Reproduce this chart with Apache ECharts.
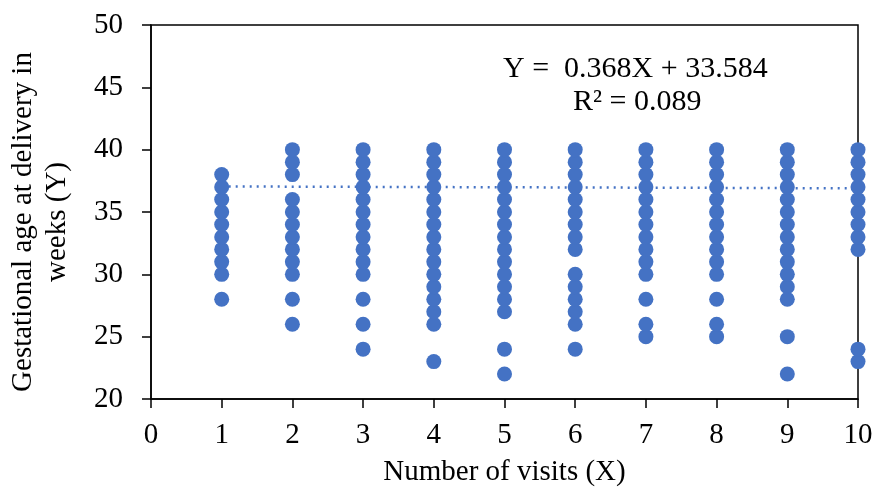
<!DOCTYPE html>
<html>
<head>
<meta charset="utf-8">
<script src="https://cdn.jsdelivr.net/npm/echarts@6/dist/echarts.min.js"></script>
<style>
  html, body { margin: 0; padding: 0; background: #fff; }
  #main { width: 876px; height: 493px; }
</style>
</head>
<body>
<div id="main"></div>
<script>
// gestational age (weeks) observed for each number of visits
var visits = [1, 2, 3, 4, 5, 6, 7, 8, 9, 10];
var weeks1 = [28, 30, 31, 32, 33, 34, 35, 36, 37, 38];
var weeks2 = [26, 28, 30, 31, 32, 33, 34, 35, 36, 38, 39, 40];
var weeks3 = [24, 26, 28, 30, 31, 32, 33, 34, 35, 36, 37, 38, 39, 40];
var weeks4 = [23, 26, 27, 28, 29, 30, 31, 32, 33, 34, 35, 36, 37, 38, 39, 40];
var weeks5 = [22, 24, 27, 28, 29, 30, 31, 32, 33, 34, 35, 36, 37, 38, 39, 40];
var weeks6 = [24, 26, 27, 28, 29, 30, 32, 33, 34, 35, 36, 37, 38, 39, 40];
var weeks7 = [25, 26, 28, 30, 31, 32, 33, 34, 35, 36, 37, 38, 39, 40];
var weeks8 = [25, 26, 28, 30, 31, 32, 33, 34, 35, 36, 37, 38, 39, 40];
var weeks9 = [22, 25, 28, 29, 30, 31, 32, 33, 34, 35, 36, 37, 38, 39, 40];
var weeks10 = [23, 24, 32, 33, 34, 35, 36, 37, 38, 39, 40];

// trend line as drawn
var trendX = [1, 10];
var trendY = [37.05, 36.9];

var xTicks = [0, 1, 2, 3, 4, 5, 6, 7, 8, 9, 10];
var yTicks = [20, 25, 30, 35, 40, 45, 50];

var equationText = "Y =  0.368X + 33.584";
var r2Text = "R\u00b2 = 0.089";

var allWeeks = [weeks1, weeks2, weeks3, weeks4, weeks5, weeks6, weeks7, weeks8, weeks9, weeks10];
var points = [];
allWeeks.forEach(function (list, i) {
  list.forEach(function (w) {
    points.push([visits[i], w]);
  });
});

var blue = "#4472C4";
var font = "'Liberation Serif', 'Times New Roman', serif";

var chart = echarts.init(document.getElementById("main"));
var option = {
  animation: false,
  grid: {
    left: 151,
    right: 18,
    top: 25,
    bottom: 94,
    outerBoundsMode: "none",
    show: true,
    borderColor: "#000",
    borderWidth: 1.5,
    backgroundColor: "transparent"
  },
  xAxis: {
    type: "value",
    min: xTicks[0],
    max: xTicks[xTicks.length - 1],
    interval: 1,
    name: "Number of visits (X)",
    nameLocation: "middle",
    nameGap: 59,
    nameTextStyle: { fontFamily: font, fontSize: 29, color: "#000" },
    axisLine: { show: true, lineStyle: { color: "#000", width: 1.5 } },
    axisTick: { show: true, length: 9, lineStyle: { color: "#000", width: 1.5 } },
    axisLabel: { fontFamily: font, fontSize: 29, color: "#000", margin: 22 },
    splitLine: { show: false }
  },
  yAxis: {
    type: "value",
    min: yTicks[0],
    max: yTicks[yTicks.length - 1],
    interval: 5,
    name: "Gestational age at delivery in\nweeks (Y)",
    nameLocation: "middle",
    nameRotate: 90,
    nameGap: 77,
    nameTextStyle: {
      fontFamily: font, fontSize: 29, color: "#000", lineHeight: 34,
      padding: [0, 20, 0, 0]
    },
    axisLine: { show: true, lineStyle: { color: "#000", width: 1.5 } },
    axisTick: { show: true, length: 9, lineStyle: { color: "#000", width: 1.5 } },
    axisLabel: { fontFamily: font, fontSize: 29, color: "#000", margin: 28 },
    splitLine: { show: false }
  },
  graphic: [
    {
      type: "text",
      left: 503,
      top: 54,
      style: { text: equationText, font: "30px " + font, fill: "#000" }
    },
    {
      type: "text",
      left: 573,
      top: 87,
      style: { text: r2Text, font: "30px " + font, fill: "#000" }
    }
  ],
  series: [
    {
      type: "scatter",
      data: points,
      symbol: "circle",
      symbolSize: 15,
      itemStyle: { color: blue, opacity: 1 },
      z: 3
    },
    {
      type: "line",
      data: trendX.map(function (x, i) { return [x, trendY[i]]; }),
      symbol: "none",
      lineStyle: { color: blue, width: 2.5, type: [2, 5] },
      z: 2
    }
  ]
};
chart.setOption(option);
</script>
</body>
</html>
